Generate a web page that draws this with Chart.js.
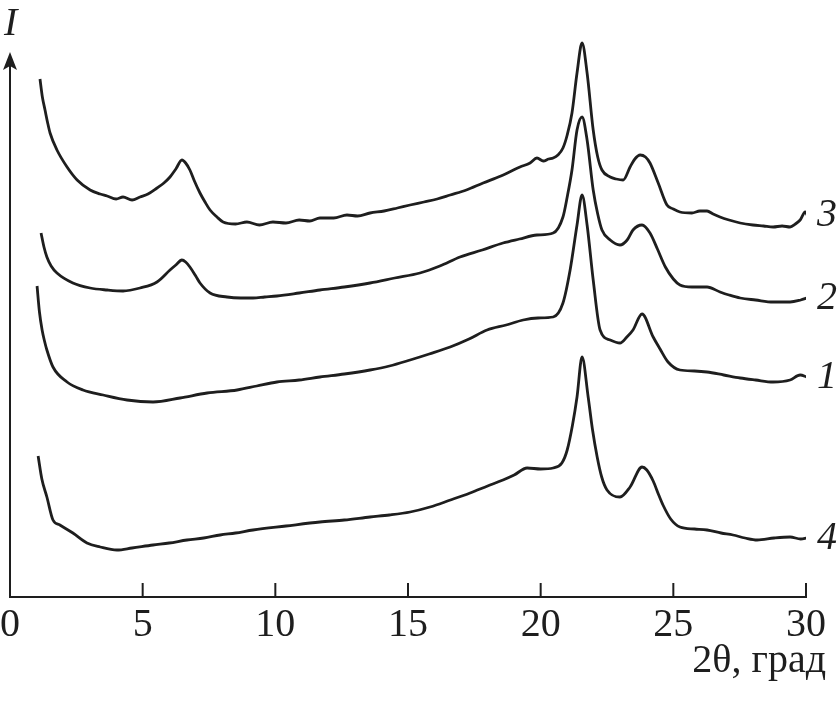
<!doctype html>
<html lang="ru">

<head>
    <meta charset="UTF-8" />
    <title>XRD patterns</title>
    <script src="https://cdn.jsdelivr.net/npm/chart.js"></script>
    <style>
        html, body { margin: 0; padding: 0; background: #fff; }
        #wrap { width: 838px; height: 705px; }
    </style>
</head>

<body>
    <div id="wrap"><canvas id="chart" width="838" height="705"></canvas></div>

    <script>
        // 2theta (deg) and intensity (arb. units), curve by curve.
        const theta3 = [1.13, 1.22, 1.32, 1.42, 1.51, 1.77, 2.15, 2.53, 3.02, 3.4, 3.66, 4.0, 4.26, 4.6, 4.9, 5.2, 5.54, 5.8, 6.03, 6.25, 6.48, 6.62,
            6.78, 6.95, 7.16, 7.35, 7.54, 7.8, 8.03, 8.5, 8.93, 9.4, 9.91, 10.4, 10.9, 11.3, 11.68, 12.2, 12.7, 13.1, 13.57, 14.1,
            14.6, 15.08, 15.6, 16.1, 16.59, 17.2, 17.83, 18.5, 19.22, 19.6, 19.86, 20.1, 20.3, 20.47, 20.65, 20.84, 21.0, 21.18, 21.37, 21.56,
            21.75, 21.98, 22.15, 22.31, 22.62, 22.85, 23.11, 23.37, 23.55, 23.75, 23.95, 24.12, 24.43, 24.76, 25.0, 25.25, 25.7, 26.0, 26.27, 26.5,
            26.76, 27.1, 27.52, 28.0, 28.4, 28.76, 29.1, 29.4, 29.6, 29.78, 29.97, 30.04];
        const int3 = [518, 500, 487, 474, 464, 447, 430, 417, 407, 403, 401, 398, 400, 397, 400, 403, 409, 414, 420, 428, 437, 434,
            427, 416, 404, 395, 387, 380, 375, 373, 375, 372, 375, 374, 377, 376, 379, 379, 382, 381, 384, 386,
            389, 392, 395, 398, 402, 407, 414, 421, 430, 434, 439, 436, 438, 439, 442, 449, 462, 484, 524, 554,
            524, 467, 440, 427, 420, 418, 417, 430, 438, 442, 440, 434, 414, 392, 388, 385, 384, 386, 386, 383,
            380, 377, 374, 372, 371, 370, 371, 370, 373, 377, 385, 382];

        const theta2 = [1.17, 1.28, 1.39, 1.55, 1.77, 2.37, 3.02, 3.66, 4.26, 4.9, 5.54, 6.03, 6.25, 6.48, 6.62, 6.78, 7.0, 7.16, 7.54, 8.18, 8.7, 9.16,
            9.6, 10.06, 10.9, 11.68, 12.6, 13.57, 14.5, 15.45, 16.2, 16.96, 17.8, 18.58, 19.2, 19.86, 20.47, 20.84, 21.0, 21.18, 21.37, 21.56,
            21.75, 21.98, 22.15, 22.31, 22.62, 22.99, 23.26, 23.48, 23.82, 24.12, 24.4, 24.7, 25.0, 25.25, 25.7, 26.27, 26.76, 27.1, 27.52, 28.1,
            28.76, 29.4, 29.8, 30.04];
        const int2 = [364, 350, 340, 331, 324, 314, 309, 307, 306, 309, 315, 327, 332, 337, 335, 330, 321, 314, 304, 300, 299, 299,
            300, 301, 304, 307, 310, 314, 319, 324, 331, 340, 347, 354, 358, 362, 364, 380, 400, 427, 467, 480,
            457, 407, 383, 367, 357, 352, 357, 367, 372, 364, 348, 330, 318, 312, 310, 310, 305, 302, 299, 297,
            295, 295, 297, 299];

        const theta1 = [1.02, 1.11, 1.21, 1.3, 1.39, 1.62, 2.15, 2.75, 3.51, 4.41, 5.39, 6.41, 7.43, 8.56, 9.3, 10.06, 10.9, 11.68, 12.6, 13.57, 14.3, 15.08,
            15.8, 16.59, 17.3, 17.98, 18.7, 19.34, 19.9, 20.47, 20.84, 21.11, 21.37, 21.56, 21.75, 21.98, 22.24, 22.62, 22.99, 23.25, 23.48, 23.82,
            24.24, 24.5, 24.8, 25.25, 25.8, 26.27, 26.9, 27.52, 28.1, 28.76, 29.4, 29.78, 30.04];
        const int1 = [311, 285, 267, 256, 247, 230, 215, 207, 202, 197, 195, 199, 204, 207, 211, 215, 217, 220, 223, 227, 231, 237,
            243, 250, 258, 267, 272, 277, 279, 280, 294, 327, 372, 402, 372, 317, 267, 257, 254, 260, 267, 283,
            260, 248, 235, 227, 226, 225, 222, 219, 217, 215, 217, 222, 220];

        const theta4 = [1.06, 1.2, 1.39, 1.62, 1.88, 2.37, 2.9, 3.4, 4.03, 4.6, 5.39, 6.0, 6.67, 7.3, 7.92, 8.5, 9.16, 10.4, 11.68, 12.6,
            13.57, 14.3, 15.08, 15.83, 16.6, 17.34, 18.0, 18.58, 19.0, 19.49, 20.0, 20.47, 20.8, 21.0, 21.2, 21.37, 21.56, 21.79, 21.95, 22.13,
            22.3, 22.5, 22.99, 23.37, 23.82, 24.0, 24.24, 24.45, 24.61, 24.9, 25.25, 25.8, 26.27, 26.8, 27.25, 27.7, 28.16, 28.8, 29.4, 29.8, 30.04];
        const int4 = [141, 118, 100, 77, 72, 64, 54, 50, 47, 49, 52, 54, 57, 59, 62, 64, 67, 71, 75, 77,
            80, 82, 85, 90, 97, 104, 111, 117, 122, 129, 128, 129, 134, 147, 172, 200, 240, 200, 168, 140,
            120, 107, 100, 110, 130, 127, 116, 102, 92, 78, 70, 68, 67, 64, 62, 59, 57, 59, 60, 58, 59];

        const curveNames = ['3', '2', '1', '4'];
        const xTicks = [0, 5, 10, 15, 20, 25, 30];
        const xTitle = '2θ, град';
        const yTitle = 'I';

        const INK = '#1e1e1e';
        const FONT = 'Liberation Serif, Times New Roman, serif';
        const Y_ARROW = 545; // top of the intensity axis, in data units

        function pts(t, v) {
            return t.map((x, i) => ({ x: x, y: v[i] }));
        }

        const curves = [[theta3, int3], [theta2, int2], [theta1, int1], [theta4, int4]];

        // axis arrow, inward ticks, titles and curve numbers
        const decor = {
            id: 'decor',
            afterDraw(chart) {
                const ctx = chart.ctx;
                const xs = chart.scales.x;
                const ys = chart.scales.y;
                const x0 = xs.getPixelForValue(0);
                const yb = ys.getPixelForValue(0);
                const yt = ys.getPixelForValue(Y_ARROW);

                ctx.save();
                ctx.strokeStyle = INK;
                ctx.fillStyle = INK;
                ctx.lineWidth = 2;

                ctx.beginPath();
                ctx.moveTo(x0, yb);
                ctx.lineTo(x0, yt + 10);
                ctx.stroke();

                ctx.beginPath();
                ctx.moveTo(x0, yt);
                ctx.lineTo(x0 - 7, yt + 18);
                ctx.lineTo(x0, yt + 14);
                ctx.lineTo(x0 + 7, yt + 18);
                ctx.closePath();
                ctx.fill();

                for (let v of xTicks) {
                    let px = xs.getPixelForValue(v);
                    ctx.beginPath();
                    ctx.moveTo(px, yb);
                    ctx.lineTo(px, yb - 14);
                    ctx.stroke();
                }

                ctx.font = '40px ' + FONT;
                ctx.textAlign = 'right';
                ctx.textBaseline = 'alphabetic';
                ctx.fillText(xTitle, xs.right + 20, yb + 75);

                ctx.font = 'italic 40px ' + FONT;
                ctx.textAlign = 'left';
                ctx.fillText(yTitle, x0 - 6, yt - 17);

                curves.forEach(([t, v], i) => {
                    let py = ys.getPixelForValue(v[v.length - 1]);
                    ctx.fillText(curveNames[i], xs.right + 11, py + 11);
                });
                ctx.restore();
            },
        };

        new Chart(document.getElementById('chart'), {
            type: 'line',
            data: {
                datasets: curves.map(([t, v], i) => ({
                    label: curveNames[i],
                    data: pts(t, v),
                    borderColor: INK,
                    borderWidth: 2.8,
                    pointRadius: 0,
                    cubicInterpolationMode: 'monotone',
                    fill: false,
                })),
            },
            options: {
                responsive: false,
                animation: false,
                layout: { padding: { left: 10, right: 32, top: 32, bottom: 0 } },
                plugins: {
                    legend: { display: false },
                    tooltip: { enabled: false },
                },
                scales: {
                    x: {
                        type: 'linear',
                        min: 0,
                        max: 30,
                        afterFit: (s) => {
                            s.height = 108;
                            s.paddingLeft = 0;
                            s.paddingRight = 0;
                        },
                        grid: { display: false, drawTicks: false },
                        border: { display: true, color: INK, width: 2 },
                        ticks: {
                            stepSize: 5,
                            padding: 4,
                            color: INK,
                            font: { family: FONT, size: 40 },
                        },
                    },
                    y: {
                        display: false,
                        min: 0,
                        max: 565,
                    },
                },
            },
            plugins: [decor],
        });
    </script>
</body>

</html>
